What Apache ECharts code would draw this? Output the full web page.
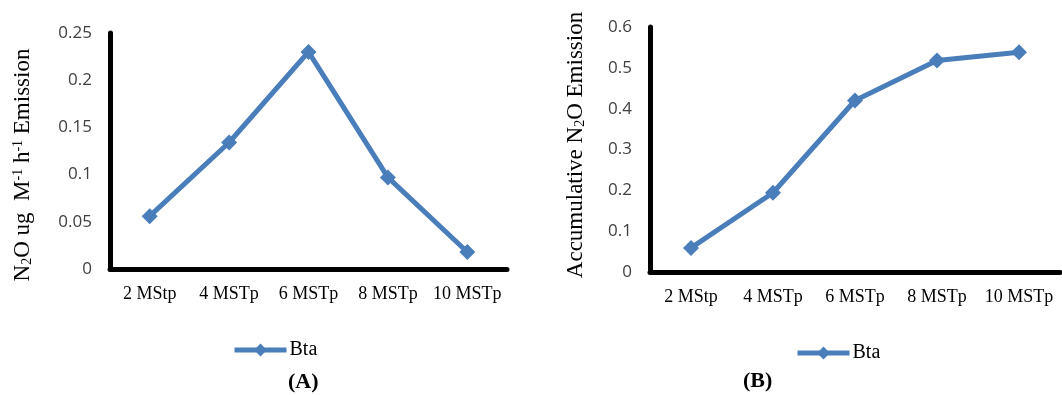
<!DOCTYPE html>
<html>
<head>
<meta charset="utf-8">
<script src="https://cdn.jsdelivr.net/npm/echarts@6/dist/echarts.min.js"></script>
<style>
  html, body { margin: 0; padding: 0; background: #fff; }
  #chart { width: 1062px; height: 395px; }
</style>
</head>
<body>
<div id="chart"></div>
<script>
// data
const categories = ["2 MStp", "4 MSTp", "6 MSTp", "8 MSTp", "10 MSTp"];
const emissionA = [0.056, 0.134, 0.23, 0.097, 0.018];
const accumB = [0.059, 0.194, 0.42, 0.518, 0.538];
const seriesName = "Bta";

const blue = "#4a7ebb";
const serif = "'Liberation Serif', 'DejaVu Serif', serif";
const sans = "'Open Sans', 'Liberation Sans', sans-serif";

let myChart = echarts.init(document.getElementById("chart"));

function xAxisOpt(gridIndex) {
  return {
    type: "category",
    gridIndex: gridIndex,
    data: categories,
    axisTick: { show: false },
    axisLine: { lineStyle: { color: "#000", width: 5 } },
    axisLabel: { interval: 0, fontFamily: serif, fontSize: 18, color: "#000", margin: 16 }
  };
}

function yAxisOpt(gridIndex, max, interval, fmt) {
  return {
    type: "value",
    gridIndex: gridIndex,
    min: 0,
    max: max,
    interval: interval,
    axisLine: { show: true, lineStyle: { color: "#000", width: 5 } },
    axisTick: { show: false },
    splitLine: { show: false },
    axisLabel: {
      fontFamily: sans,
      fontSize: 17,
      color: "#404040",
      margin: 18,
      formatter: fmt
    }
  };
}

function lineSeries(idx, data) {
  return {
    name: seriesName,
    type: "line",
    xAxisIndex: idx,
    yAxisIndex: idx,
    data: data,
    symbol: "diamond",
    symbolSize: 16,
    itemStyle: { color: blue },
    lineStyle: { color: blue, width: 5 }
  };
}

function legendOpt(left, top) {
  return {
    left: left, top: top, padding: 0,
    itemWidth: 52, itemHeight: 16, itemGap: 4,
    data: [seriesName],
    lineStyle: { width: 5 },
    textStyle: { fontFamily: serif, fontSize: 20, color: "#000", padding: [0, 0, 0, -2] }
  };
}

const titleRich = {
  n: { fontFamily: serif, fontSize: 23, color: "#000" },
  sub: { fontFamily: serif, fontSize: 14, color: "#000", verticalAlign: "bottom", padding: [9, 0, 0, 0] },
  sup: { fontFamily: serif, fontSize: 14, color: "#000", verticalAlign: "top", padding: [0, 0, 9, 0] }
};

let options = {
  animation: false,
  grid: [
    { left: 110, top: 33, right: 555, bottom: 126 },
    { left: 650, top: 27, right: 2, bottom: 123 }
  ],
  xAxis: [xAxisOpt(0), xAxisOpt(1)],
  yAxis: [
    yAxisOpt(0, 0.25, 0.05, v => (v === 0 ? "0" : String(+v.toFixed(2)))),
    yAxisOpt(1, 0.6, 0.1, v => (v === 0 ? "0" : String(+v.toFixed(1))))
  ],
  legend: [legendOpt(232, 340), legendOpt(795, 343)],
  series: [lineSeries(0, emissionA), lineSeries(1, accumB)],
  graphic: [
    {
      type: "text",
      x: 23, y: 165,
      rotation: Math.PI / 2,
      style: {
        text: "{n|N}{sub|2}{n|O ug  M}{sup|-1}{n| h}{sup|-1}{n| Emission}",
        rich: titleRich,
        align: "center",
        verticalAlign: "middle"
      }
    },
    {
      type: "text",
      x: 576, y: 145,
      rotation: Math.PI / 2,
      style: {
        text: "{n|Accumulative N}{sub|2}{n|O Emission}",
        rich: titleRich,
        align: "center",
        verticalAlign: "middle"
      }
    },
    {
      type: "text", left: 288, top: 371,
      style: { text: "(A)", fontFamily: serif, fontWeight: "bold", fontSize: 22, fill: "#000" }
    },
    {
      type: "text", left: 743, top: 370,
      style: { text: "(B)", fontFamily: serif, fontWeight: "bold", fontSize: 22, fill: "#000" }
    }
  ]
};

myChart.setOption(options);
window.addEventListener("resize", () => myChart.resize());
</script>
</body>
</html>
